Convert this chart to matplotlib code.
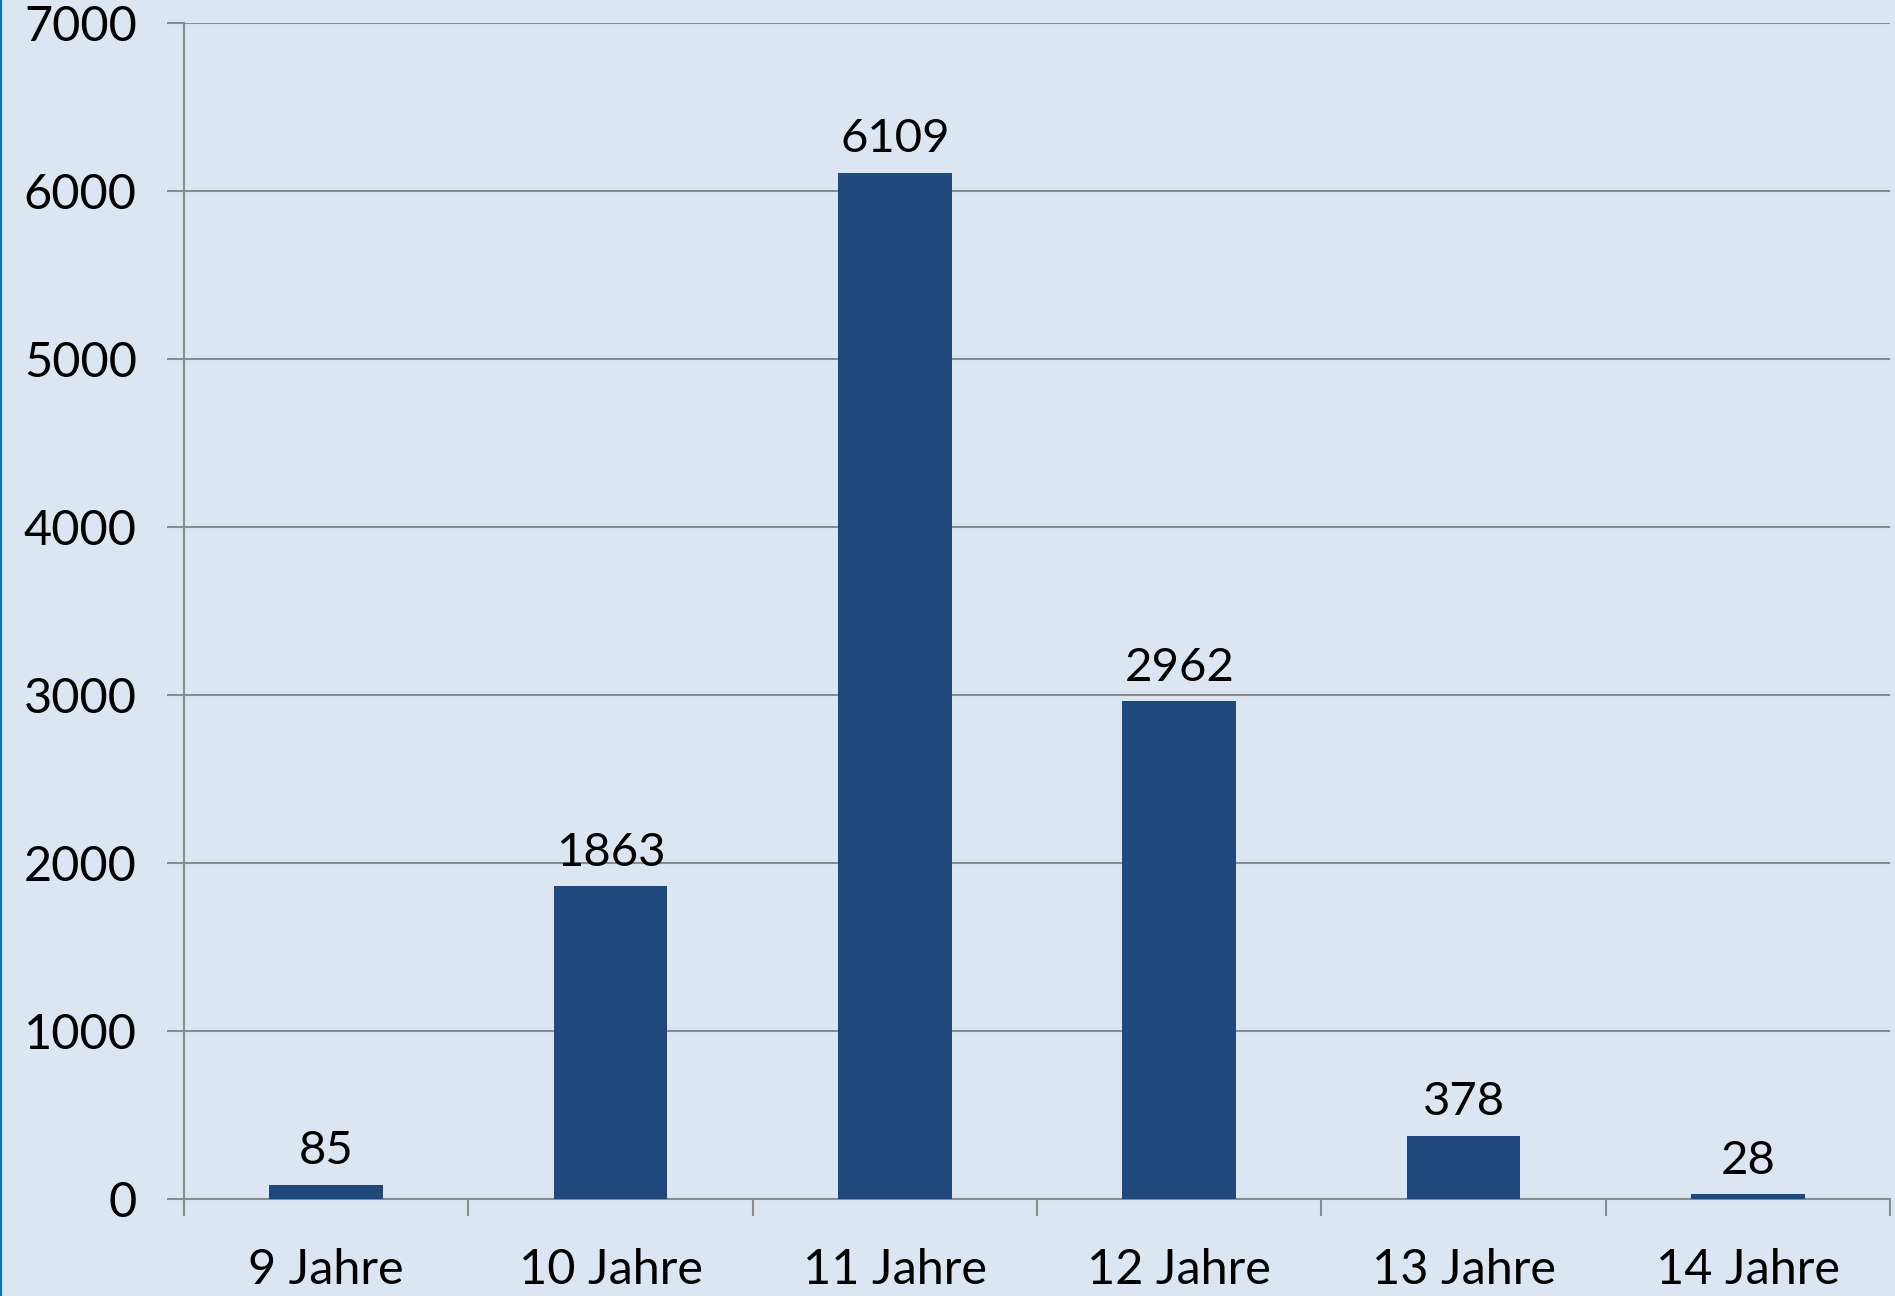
import numpy as np
import matplotlib.pyplot as plt
from matplotlib.lines import Line2D

categories = ["9 Jahre", "10 Jahre", "11 Jahre", "12 Jahre", "13 Jahre", "14 Jahre"]
counts = [85, 1863, 6109, 2962, 378, 28]
y_ticks = [0, 1000, 2000, 3000, 4000, 5000, 6000, 7000]

plt.rcParams['font.family'] = ['Lato', 'DejaVu Sans']

bg = "#dce6f2"
bar_color = "#1f497d"
grid_color = "#8c8c8c"

fig = plt.figure(figsize=(18.95, 12.96), dpi=100, facecolor=bg)
ax = fig.add_axes([0.0971, 0.0748, 0.9003, 0.9075])
ax.set_facecolor(bg)

x = np.arange(len(categories))
ax.bar(x, counts, width=0.4, color=bar_color, zorder=3)

for xi, v in zip(x, counts):
    ax.annotate(str(v), (xi, v), xytext=(0, 9), textcoords="offset points",
                ha="center", va="bottom", fontsize=34, color="black", zorder=4)

ax.set_xlim(-0.5, len(categories) - 0.5)
ax.set_ylim(0, 7000)
ax.set_yticks(y_ticks)
ax.set_yticklabels([str(t) for t in y_ticks], fontsize=35)
ax.set_xticks(x)
ax.set_xticklabels(categories, fontsize=35)
ax.set_xticks(np.arange(-0.5, len(categories)), minor=True)

ax.yaxis.grid(True, color=grid_color, linewidth=1.5, zorder=0)
ax.tick_params(axis="y", length=12, width=1.5, color=grid_color, pad=22)
ax.tick_params(axis="x", which="major", length=0, pad=35)
ax.tick_params(axis="x", which="minor", length=12, width=1.5, color=grid_color)

for side in ["top", "right"]:
    ax.spines[side].set_visible(False)
for side in ["left", "bottom"]:
    ax.spines[side].set_color(grid_color)
    ax.spines[side].set_linewidth(1.5)

# thin blue edge on the left side of the slide
fig.add_artist(Line2D([0.0006, 0.0006], [0, 1], color="#0070c0", linewidth=1.5,
                      transform=fig.transFigure))

fig.savefig("out.png", dpi=100, facecolor=bg)
